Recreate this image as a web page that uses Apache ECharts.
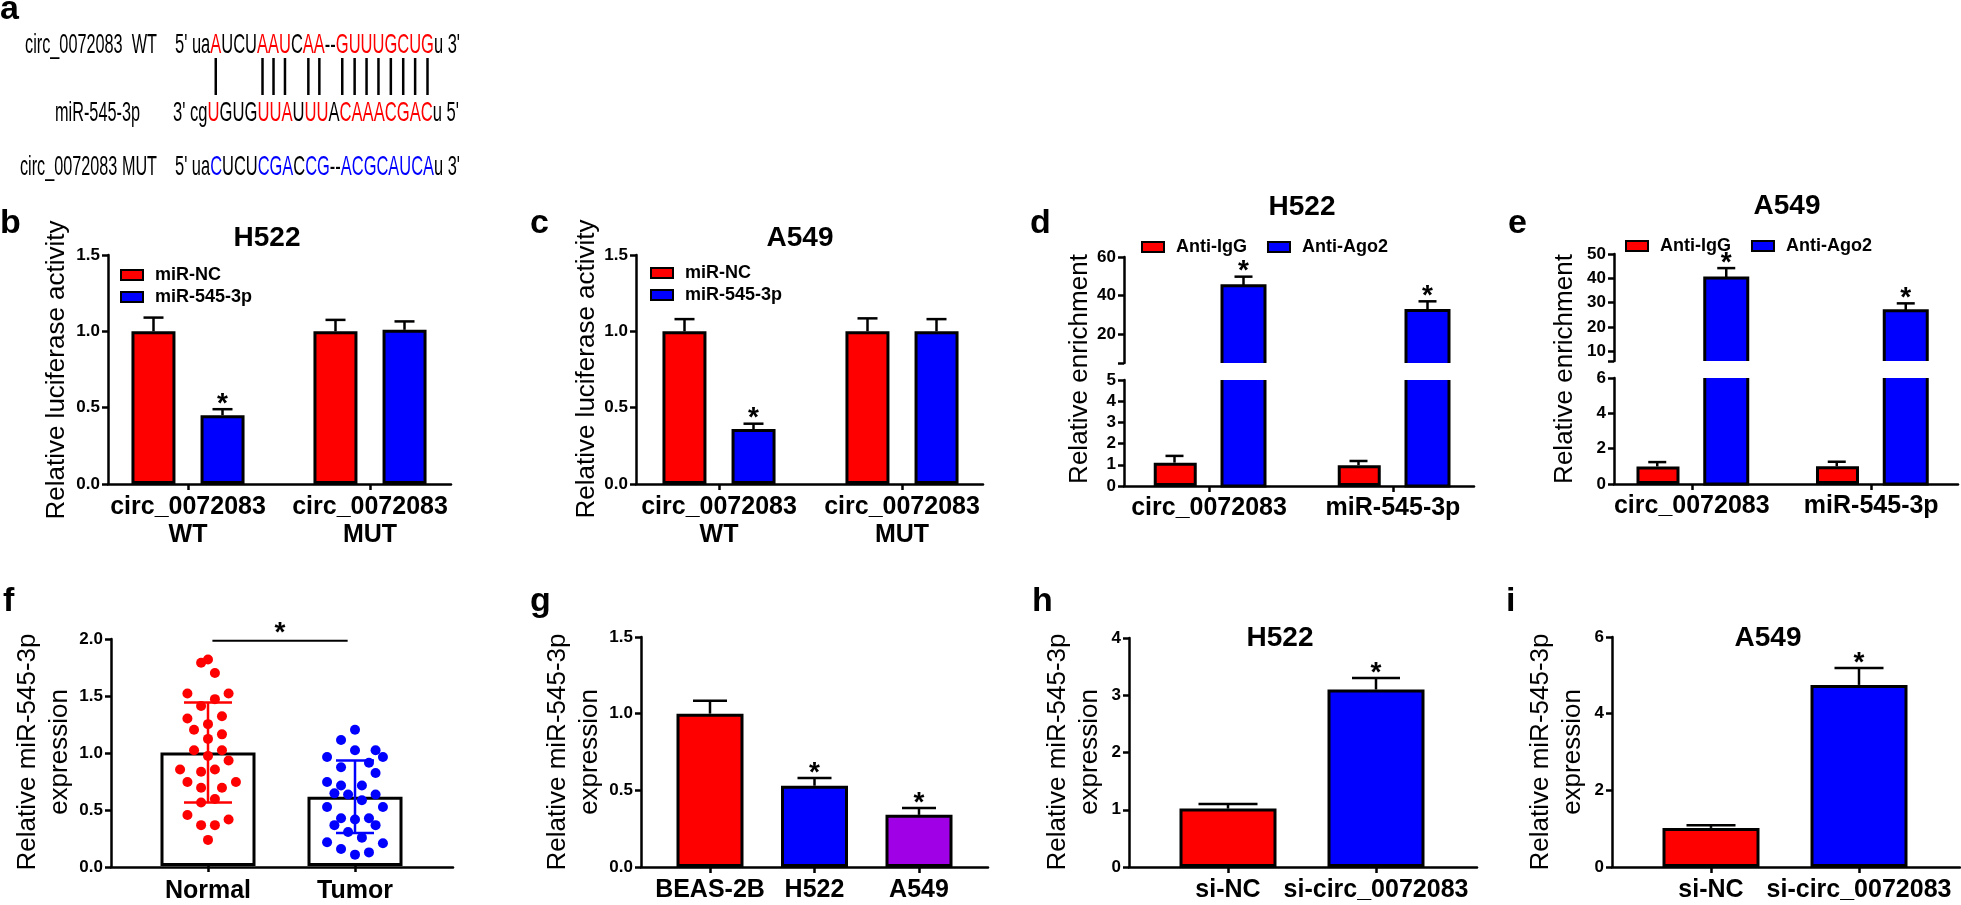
<!DOCTYPE html>
<html>
<head>
<meta charset="utf-8">
<script src="https://cdn.jsdelivr.net/npm/echarts@6/dist/echarts.min.js"></script>
<style>
  html, body { margin: 0; padding: 0; background: #fff; }
  #fig { width: 1961px; height: 905px; }
</style>
</head>
<body>
<div id="fig"></div>
<script>
// ---------- data ----------
// b / c : luciferase reporter
const luxCats = ['circ_0072083\nWT', 'circ_0072083\nMUT'];
const bNC = [1.0, 1.0], bNCErr = [0.09, 0.075];
const bMiR = [0.45, 1.01], bMiRErr = [0.04, 0.055];
const bStar = [true, false];
const cNC = [1.0, 1.0], cNCErr = [0.08, 0.085];
const cMiR = [0.36, 1.0], cMiRErr = [0.035, 0.08];
const cStar = [true, false];

// d / e : RIP (broken axis)
const ripCats = ['circ_0072083', 'miR-545-3p'];
const dIgG = [1.1, 0.98], dIgGErr = [0.32, 0.2];
const dAgo = [45.1, 32.3], dAgoErr = [4.7, 4.7];
const eIgG = [0.99, 1.0], eIgGErr = [0.25, 0.26];
const eAgo = [40.1, 26.7], eAgoErr = [4.1, 3.0];
const ripStar = [true, true];

// f : tissues, [x jitter (category units), value]
const tissueCats = ['Normal', 'Tumor'];
const tissueMean = [1.0, 0.61], tissueSD = [0.44, 0.32];
const normalPts = [
  [-0.047, 1.79], [0, 1.82], [0.047, 1.70], [-0.14, 1.52], [0.14, 1.52], [0.047, 1.47],
  [-0.047, 1.41], [-0.14, 1.30], [0.095, 1.32], [-0.095, 1.20], [0, 1.25], [0.095, 1.16],
  [0, 1.12], [-0.095, 1.02], [0.095, 1.02], [0, 0.97], [0.14, 0.93], [-0.19, 0.85],
  [-0.047, 0.83], [0.047, 0.85], [-0.14, 0.74], [0.19, 0.74], [-0.047, 0.69], [0.095, 0.69],
  [0.047, 0.59], [-0.047, 0.56], [-0.14, 0.45], [0.14, 0.41], [-0.047, 0.36], [0.047, 0.36],
  [0, 0.23]
];
const tumorPts = [
  [0, 1.20], [-0.095, 1.11], [0, 1.02], [0.14, 1.02], [-0.19, 0.96], [0.19, 0.96],
  [0.095, 0.91], [-0.095, 0.87], [0.14, 0.82], [-0.19, 0.74], [-0.095, 0.71], [0.047, 0.71],
  [-0.14, 0.64], [-0.047, 0.63], [0.14, 0.63], [0.047, 0.58], [-0.19, 0.52], [0.19, 0.52],
  [-0.095, 0.42], [0, 0.41], [0.095, 0.42], [-0.14, 0.36], [0.14, 0.36], [-0.047, 0.30],
  [0.047, 0.25], [-0.19, 0.21], [0.19, 0.20], [-0.095, 0.15], [0.095, 0.12], [0, 0.10]
];
const tissueSig = [0.03, 0.95, 1.985]; // from, to, level

// g : cell lines
const cellCats = ['BEAS-2B', 'H522', 'A549'];
const cellExpr = [1.0, 0.53, 0.34], cellErr = [0.085, 0.05, 0.045];
const cellStar = [false, true, true];

// h / i : knockdown
const siCats = ['si-NC', 'si-circ_0072083'];
const hExpr = [1.02, 3.1], hErr = [0.08, 0.2];
const iExpr = [1.02, 4.75], iErr = [0.07, 0.44];
const siStar = [false, true];

// ---------- styles ----------
const FONT = '"Liberation Sans", Arial, sans-serif';
const RED = '#ff0000', BLUE = '#0000ff', PURPLE = '#a000e6';
const LW = 2.5;

const grids = [], xAxes = [], yAxes = [], series = [], graphics = [], legends = [];

function addGrid(x0, x1, y0, y1) {
  grids.push({ left: x0, top: y0, width: x1 - x0, height: y1 - y0, containLabel: false });
  return grids.length - 1;
}

// axis frame: visible y axis with ticks/labels + x axis line
function frame(x0, x1, y0, y1, o) {
  const g = addGrid(x0, x1, y0, y1);
  xAxes.push({
    gridIndex: g, type: 'value', min: 0, max: 1, show: o.xLine !== false,
    axisLine: { onZero: false, lineStyle: { color: '#000', width: LW } },
    axisTick: { show: false }, axisLabel: { show: false }, splitLine: { show: false }
  });
  const y = {
    gridIndex: g, type: 'value', min: o.min, max: o.max,
    axisLine: { show: true, onZero: false, lineStyle: { color: '#000', width: LW } },
    axisTick: { show: true, length: 6, lineStyle: { color: '#000', width: LW } },
    axisLabel: {
      color: '#000', fontFamily: FONT, fontWeight: 'bold', fontSize: 17, margin: 8,
      formatter: o.fmt || (v => String(v))
    },
    splitLine: { show: false }
  };
  if (o.ticks) {
    y.axisTick.customValues = o.ticks;
    y.axisLabel.customValues = o.labels;
  } else {
    y.interval = o.interval;
  }
  yAxes.push(y);
}

// invisible grid holding the bars, sized so category centres land where the figure has them
function barGrid(cats, c0, c1, y0, y1, min, max, margin, showX = true) {
  const n = cats.length, w = (c1 - c0) / (n - 1);
  const g = addGrid(c0 - w / 2, c1 + w / 2, y0, y1);
  const xi = xAxes.length;
  xAxes.push({
    gridIndex: g, type: 'category', data: cats,
    axisLine: { show: false },
    axisTick: { show: showX, alignWithLabel: true, interval: 0, length: 6, lineStyle: { color: '#000', width: LW } },
    axisLabel: {
      show: showX, interval: 0, color: '#000', fontFamily: FONT, fontWeight: 'bold',
      fontSize: 25, lineHeight: 28, margin
    },
    splitLine: { show: false }
  });
  const yi = yAxes.length;
  yAxes.push({ gridIndex: g, type: 'value', min, max, show: false });
  return { g, xi, yi, n };
}

function bars(ax, name, data, color, bw, gap) {
  series.push({
    type: 'bar', name, xAxisIndex: ax.xi, yAxisIndex: ax.yi,
    data: data.map((v, i) => ({ value: v, itemStyle: { color: Array.isArray(color) ? color[i] : color } })),
    barWidth: bw, barGap: gap, z: 2,
    itemStyle: { color: Array.isArray(color) ? color[0] : color, borderColor: '#000', borderWidth: 3 },
    emphasis: { disabled: true }
  });
}

// bars that run through an axis break: no border on the cut edge
function cutBars(ax, vals, offset, width, color, part) {
  series.push({
    type: 'custom', xAxisIndex: ax.xi, yAxisIndex: ax.yi, z: 3, silent: true,
    data: vals.map((v, i) => [i, v]),
    renderItem(params, api) {
      const cs = params.coordSys;
      const p = api.coord([api.value(0), api.value(1)]);
      const xc = p[0] + offset, xl = xc - width / 2, xr = xc + width / 2;
      let top, bot, edge;
      if (part === 'upper') {
        top = Math.max(p[1], cs.y); bot = cs.y + cs.height;
        edge = [[xl, bot], [xl, top], [xr, top], [xr, bot]];
      } else {
        top = cs.y; bot = api.coord([api.value(0), 0])[1];
        edge = [[xl, top], [xl, bot], [xr, bot], [xr, top]];
      }
      return { type: 'group', children: [
        { type: 'rect', shape: { x: xl, y: top, width: width, height: bot - top }, style: { fill: color } },
        { type: 'polyline', shape: { points: edge }, style: { stroke: '#000', lineWidth: 3, fill: null } }
      ] };
    }
  });
}

function errBars(ax, vals, errs, offset, cap, o = {}) {
  const col = o.color || '#000';
  series.push({
    type: 'custom', xAxisIndex: ax.xi, yAxisIndex: ax.yi, z: 10, silent: true,
    data: vals.map((v, i) => [i, v, errs[i], o.stars && o.stars[i] ? 1 : 0]),
    renderItem(params, api) {
      const i = api.value(0), v = api.value(1), e = api.value(2);
      const c = Array.isArray(col) ? col[i] : col;
      const cw = Array.isArray(cap) ? cap[i] : cap;
      const p = api.coord([i, v]), t = api.coord([i, v + e]);
      const x = p[0] + offset;
      const b = o.both ? api.coord([i, v - e])[1] : p[1];
      const st = { stroke: c, lineWidth: LW };
      const ch = [
        { type: 'line', shape: { x1: x, y1: b, x2: x, y2: t[1] }, style: st },
        { type: 'line', shape: { x1: x - cw / 2, y1: t[1], x2: x + cw / 2, y2: t[1] }, style: st }
      ];
      if (o.both) ch.push({ type: 'line', shape: { x1: x - cw / 2, y1: b, x2: x + cw / 2, y2: b }, style: st });
      if (api.value(3)) ch.push(star(x, t[1]));
      return { type: 'group', children: ch };
    }
  });
}

function star(x, y) {
  return {
    type: 'text', x, y: y + 9,
    style: { text: '*', fill: '#000', font: 'bold 28px ' + FONT, align: 'center', verticalAlign: 'bottom' }
  };
}

function txt(x, y, text, size, weight, extra = {}) {
  graphics.push(Object.assign({
    type: 'text', x, y, silent: true,
    style: { text, fill: '#000', font: weight + ' ' + size + 'px ' + FONT, align: 'center', verticalAlign: 'middle' }
  }, extra));
}
function yName(x, y, text) {
  txt(x, y, text, 26, 'normal', { rotation: Math.PI / 2 });
  graphics[graphics.length - 1].style.lineHeight = 32;
}
function letter(x, y, s) {
  txt(x, y, s, 34, 'bold');
  graphics[graphics.length - 1].style.align = 'left';
}

function legendBox(left, top, names, orient, gap) {
  legends.push({
    orient, left, top, itemWidth: 22, itemHeight: 10, itemGap: gap, icon: 'rect',
    selectedMode: false, data: names,
    textStyle: { color: '#000', fontFamily: FONT, fontWeight: 'bold', fontSize: 18, padding: [0, 0, 0, 7] }
  });
}

const dec1 = v => v.toFixed(1);

// ---------- panel b ----------
frame(108, 451, 255, 484, { min: 0, max: 1.5, interval: 0.5, fmt: dec1 });
let ax = barGrid(luxCats, 188, 370, 255, 484, 0, 1.5, 9);
bars(ax, 'miR-NC', bNC, RED, 44, '57%');
bars(ax, 'miR-545-3p', bMiR, BLUE, 44, '57%');
errBars(ax, bNC, bNCErr, -34.5, 20);
errBars(ax, bMiR, bMiRErr, 34.5, 20, { stars: bStar });
legendBox(115, 261, ['miR-NC', 'miR-545-3p'], 'vertical', 4);
txt(267, 238, 'H522', 28, 'bold');
yName(57, 370, 'Relative luciferase activity');

// ---------- panel c ----------
frame(636, 983, 255, 484, { min: 0, max: 1.5, interval: 0.5, fmt: dec1 });
ax = barGrid(luxCats, 719, 902, 255, 484, 0, 1.5, 9);
bars(ax, 'miR-NC', cNC, RED, 44, '57%');
bars(ax, 'miR-545-3p', cMiR, BLUE, 44, '57%');
errBars(ax, cNC, cNCErr, -34.5, 20);
errBars(ax, cMiR, cMiRErr, 34.5, 20, { stars: cStar });
legendBox(645, 259, ['miR-NC', 'miR-545-3p'], 'vertical', 4);
txt(800, 238, 'A549', 28, 'bold');
yName(587, 369, 'Relative luciferase activity');

// ---------- panel d (broken axis) ----------
frame(1124, 1474, 257, 363, { min: 5, max: 60, ticks: [5, 20, 40, 60], labels: [20, 40, 60], xLine: false });
frame(1124, 1474, 380, 486, { min: 0, max: 5, interval: 1 });
let axU = barGrid(ripCats, 1209, 1393, 257, 363, 5, 60, 8, false);
let axL = barGrid(ripCats, 1209, 1393, 380, 486, 0, 5, 8);
bars(axL, 'Anti-IgG', dIgG, RED, 43, '57%');
bars(axL, 'Anti-Ago2', [null, null], BLUE, 43, '57%');
cutBars(axU, dAgo, 34.5, 43, BLUE, 'upper');
cutBars(axL, dAgo, 34.5, 43, BLUE, 'lower');
errBars(axL, dIgG, dIgGErr, -34.5, 18);
errBars(axU, dAgo, dAgoErr, 34.5, 18, { stars: ripStar });
legendBox(1136, 233, ['Anti-IgG', 'Anti-Ago2'], 'horizontal', 20);
txt(1302, 207, 'H522', 28, 'bold');
yName(1080, 369, 'Relative enrichment');

// ---------- panel e (broken axis) ----------
frame(1614, 1958, 254, 361, { min: 6, max: 50, ticks: [6, 10, 20, 30, 40, 50], labels: [10, 20, 30, 40, 50], xLine: false });
frame(1614, 1958, 378, 484, { min: 0, max: 6, interval: 2 });
axU = barGrid(ripCats, 1694, 1878, 254, 361, 6, 50, 8, false);
axL = barGrid(ripCats, 1694, 1878, 378, 484, 0, 6, 8);
bars(axL, 'Anti-IgG', eIgG, RED, 43, '57%');
bars(axL, 'Anti-Ago2', [null, null], BLUE, 43, '57%');
cutBars(axU, eAgo, 34.5, 43, BLUE, 'upper');
cutBars(axL, eAgo, 34.5, 43, BLUE, 'lower');
errBars(axL, eIgG, eIgGErr, -34.5, 18);
errBars(axU, eAgo, eAgoErr, 34.5, 18, { stars: ripStar });
legendBox(1620, 232, ['Anti-IgG', 'Anti-Ago2'], 'horizontal', 20);
txt(1787, 206, 'A549', 28, 'bold');
yName(1565, 369, 'Relative enrichment');

// ---------- panel f (scatter + mean bar) ----------
frame(111, 453, 639, 867, { min: 0, max: 2, interval: 0.5, fmt: dec1 });
ax = barGrid(tissueCats, 208, 355, 639, 867, 0, 2, 11);
const fx = xAxes.length;
xAxes.push({ gridIndex: ax.g, type: 'value', min: -0.5, max: 1.5, show: false });
bars(ax, 'tissueMean', tissueMean, '#ffffff', 95, '0%');
[normalPts, tumorPts].forEach((pts, k) => {
  series.push({
    type: 'scatter', xAxisIndex: fx, yAxisIndex: ax.yi, z: 5, symbolSize: 10,
    itemStyle: { color: k ? BLUE : RED, opacity: 1 },
    data: pts.map(p => [k + p[0], p[1]]), emphasis: { disabled: true }
  });
});
errBars(ax, tissueMean, tissueSD, 0, [48, 38], { both: true, color: [RED, BLUE] });
series.push({
  type: 'custom', xAxisIndex: fx, yAxisIndex: ax.yi, z: 10, silent: true,
  data: [tissueSig],
  renderItem(params, api) {
    const a = api.coord([api.value(0), api.value(2)]), b = api.coord([api.value(1), api.value(2)]);
    return { type: 'group', children: [
      { type: 'line', shape: { x1: a[0], y1: a[1], x2: b[0], y2: b[1] }, style: { stroke: '#000', lineWidth: 2 } },
      star((a[0] + b[0]) / 2, a[1] - 2)
    ] };
  }
});
yName(44, 752, 'Relative miR-545-3p\nexpression');

// ---------- panel g ----------
frame(641, 988, 637, 867, { min: 0, max: 1.5, interval: 0.5, fmt: dec1 });
ax = barGrid(cellCats, 710, 919, 637, 867, 0, 1.5, 9);
bars(ax, 'cells', cellExpr, [RED, BLUE, PURPLE], 67, '0%');
errBars(ax, cellExpr, cellErr, 0, 34, { stars: cellStar });
yName(574, 752, 'Relative miR-545-3p\nexpression');

// ---------- panel h ----------
frame(1129, 1477, 638, 867, { min: 0, max: 4, interval: 1 });
ax = barGrid(siCats, 1228, 1376, 638, 867, 0, 4, 9);
bars(ax, 'siH', hExpr, [RED, BLUE], 97, '0%');
errBars(ax, hExpr, hErr, 0, [59, 48], { stars: siStar });
txt(1280, 638, 'H522', 28, 'bold');
yName(1074, 752, 'Relative miR-545-3p\nexpression');

// ---------- panel i ----------
frame(1612, 1960, 637, 867, { min: 0, max: 6, interval: 2 });
ax = barGrid(siCats, 1711, 1859, 637, 867, 0, 6, 9);
bars(ax, 'siA', iExpr, [RED, BLUE], 97, '0%');
errBars(ax, iExpr, iErr, 0, 49, { stars: siStar });
txt(1768, 638, 'A549', 28, 'bold');
yName(1557, 752, 'Relative miR-545-3p\nexpression');

// ---------- panel letters ----------
letter(0, 10, 'a');
letter(0, 224, 'b'); letter(530, 224, 'c'); letter(1030, 224, 'd'); letter(1508, 224, 'e');
letter(3, 602, 'f'); letter(530, 602, 'g'); letter(1032, 602, 'h'); letter(1506, 602, 'i');

// ---------- panel a : sequence alignment ----------
// text in the figure is horizontally condensed: each row is squeezed to its width in the figure
const SEQFONT = '28px ' + FONT;
const mctx = document.createElement('canvas').getContext('2d');
function textW(s) { mctx.font = SEQFONT; return mctx.measureText(s).width; }

function seqRow(x, y, segs, target) {
  const full = segs.map(s => s[0]).join('');
  const sx = target / textW(full);
  let pre = '';
  const children = segs.map(([t, c]) => {
    const el = {
      type: 'text', x: sx * textW(pre), y: 0, scaleX: sx,
      style: { text: t, fill: c, font: SEQFONT, align: 'left', verticalAlign: 'middle' }
    };
    pre += t;
    return el;
  });
  graphics.push({ type: 'group', x, y, silent: true, children });
  // centre of character i, for the base-pair ticks
  return i => x + sx * (textW(full.slice(0, i)) + textW(full[i]) / 2);
}
const K = '#000';
seqRow(25, 45, [['circ_0072083  WT', K]], 132);
seqRow(55, 113, [['miR-545-3p', K]], 85);
seqRow(20, 167, [['circ_0072083 MUT', K]], 137);
const wtAt = seqRow(175, 45, [["5' ua", K], ['A', RED], ['UCU', K], ['AAU', RED], ['C', K], ['AA', RED],
  ['--', K], ['GUUUGCUG', RED], ["u 3'", K]], 285);
seqRow(173, 113, [["3' cg", K], ['U', RED], ['GUG', K], ['UUA', RED], ['U', K], ['UU', RED],
  ['A', K], ['CAAACGAC', RED], ["u 5'", K]], 286);
seqRow(175, 167, [["5' ua", K], ['C', BLUE], ['UCU', K], ['CGA', BLUE], ['C', K], ['CG', BLUE],
  ['--', K], ['ACGCAUCA', BLUE], ["u 3'", K]], 285);
// paired positions in the WT string
[5, 9, 10, 11, 13, 14, 17, 18, 19, 20, 21, 22, 23, 24].forEach(i => {
  const px = wtAt(i);
  graphics.push({ type: 'line', silent: true, shape: { x1: px, y1: 58, x2: px, y2: 95 }, style: { stroke: '#000', lineWidth: 2.5 } });
});

const chart = echarts.init(document.getElementById('fig'), null, { renderer: 'canvas' });
chart.setOption({
  backgroundColor: '#fff',
  animation: false,
  textStyle: { fontFamily: FONT },
  grid: grids, xAxis: xAxes, yAxis: yAxes, legend: legends, series,
  graphic: { elements: graphics }
});
</script>
</body>
</html>
